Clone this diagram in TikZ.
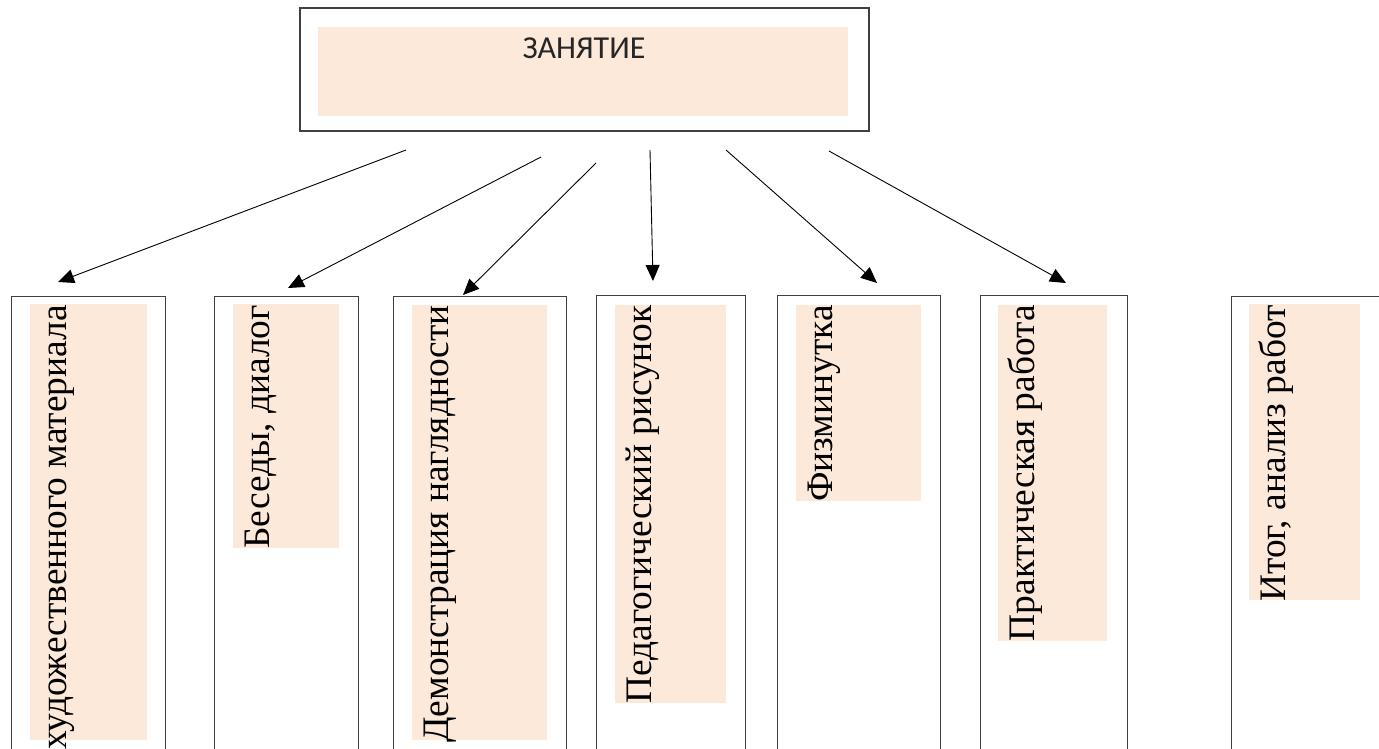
\documentclass[tikz,border=0pt]{standalone}
\usepackage{fontspec}
\setmainfont{Liberation Serif}
\newfontfamily\calibri{Carlito}
\usetikzlibrary{arrows.meta}
\definecolor{peach}{RGB}{252,233,218}
\begin{document}
\begin{tikzpicture}[x=1pt,y=-1pt,
  outerbox/.style={draw=black!75, line width=0.9pt, outer sep=0pt, inner sep=0pt, anchor=north west, minimum height=480pt},
  hl/.style={fill=peach},
  vlabel/.style={rotate=90, anchor=base east, inner sep=0pt, font=\fontsize{37.4}{40}\selectfont},
  conn/.style={draw=black, line width=0.9pt, -{Triangle[length=16pt,width=14pt]}}]
\useasboundingbox (0,0) rectangle (1379,749);
\fill[white] (0,0) rectangle (1379,749);
% top box
\node[draw=black!75, line width=2.5pt, minimum width=569pt, minimum height=123pt, inner sep=0pt, outer sep=0pt] (top) at (584.5,69.5) {};
\fill[peach] (318,27) rectangle (848,116);
\node[font=\calibri\fontsize{32}{34}\selectfont, text=black!85, inner sep=0pt] (toptxt) at (584,48) {ЗАНЯТИЕ};
% bottom boxes
\node[outerbox, minimum width=154pt] (b1) at (11,296) {};
\node[outerbox, minimum width=144pt] (b2) at (214,296) {};
\node[outerbox, minimum width=173pt] (b3) at (393,296) {};
\node[outerbox, minimum width=149pt] (b4) at (596,295.5) {};
\node[outerbox, minimum width=163pt] (b5) at (777,295.5) {};
\node[outerbox, minimum width=147pt] (b6) at (980,295.5) {};
\node[outerbox, minimum width=169pt] (b7) at (1231,296) {};
% highlights
\fill[hl] (30,304) rectangle (147,740);
\fill[hl] (233,304) rectangle (339,548);
\fill[hl] (412,305) rectangle (547,740);
\fill[hl] (615,305) rectangle (726,703);
\fill[hl] (796,305) rectangle (921,501);
\fill[hl] (998,305) rectangle (1107,641);
\fill[hl] (1249,304) rectangle (1360,600);
% labels
\node[vlabel] (t1) at (66,305) {художественного материала};
\node[vlabel] (t2) at (269,305) {Беседы, диалог};
\node[vlabel] (t3) at (448,305) {Демонстрация наглядности};
\node[vlabel] (t4) at (651,305) {Педагогический рисунок};
\node[vlabel] (t5) at (832,305) {Физминутка};
\node[vlabel] (t6) at (1034,305) {Практическая работа};
\node[vlabel] (t7) at (1285,305) {Итог, анализ работ};
% connectors
\coordinate (s1) at (406,150); \coordinate (e1) at (58,282);
\coordinate (s2) at (541,157); \coordinate (e2) at (288,288);
\coordinate (s3) at (596,163); \coordinate (e3) at (463,295);
\coordinate (s4) at (650,150); \coordinate (e4) at (653,281);
\coordinate (s5) at (726,150); \coordinate (e5) at (877,283);
\coordinate (s6) at (829,151); \coordinate (e6) at (1066,283);
\foreach \i in {1,...,6} {\draw[conn] (s\i) -- (e\i);}
\end{tikzpicture}
\end{document}
